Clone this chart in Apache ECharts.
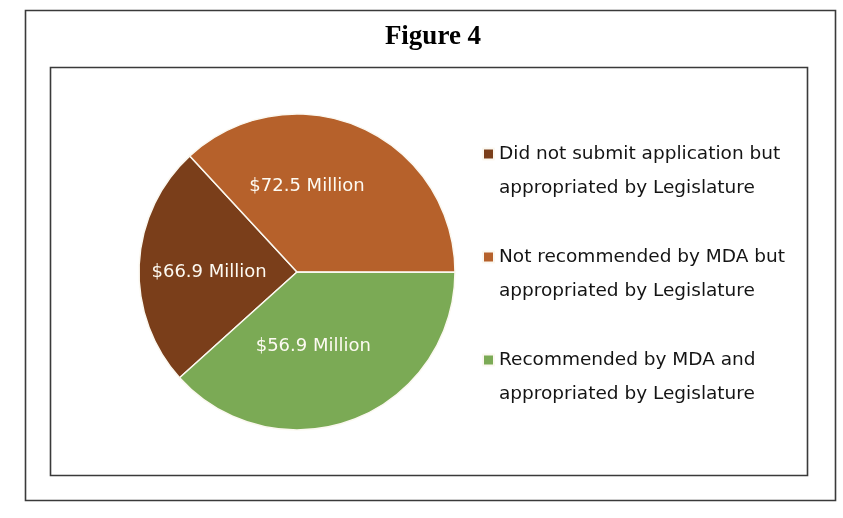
<!DOCTYPE html>
<html>
<head>
<meta charset="utf-8">
<script src="https://cdn.jsdelivr.net/npm/echarts@6/dist/echarts.min.js"></script>
<style>
html,body{margin:0;padding:0;background:#fff;}
#chart{width:843px;height:518px;}
</style>
</head>
<body>
<div id="chart"></div>
<script>
// Categories (legend order)
var categories = [
  'Did not submit application but\nappropriated by Legislature',
  'Not recommended by MDA but\nappropriated by Legislature',
  'Recommended by MDA and\nappropriated by Legislature'
];
// Printed amounts on the slices ($ Million)
var amounts = [66.9, 72.5, 56.9];
// Slice shares as drawn in the picture (percent of the circle)
var shares = [24.8, 36.9, 38.3];
var colors = ['#7A3E1A', '#B6612B', '#7BAA55'];
var labelOffsets = [[-6, 4], [-23, -11], [-13, -2]];

var chart = echarts.init(document.getElementById('chart'), null, {renderer: 'canvas'});

var pieData = categories.map(function (c, i) {
  return {
    name: c,
    value: shares[i],
    itemStyle: {color: colors[i]},
    label: {offset: labelOffsets[i]}
  };
});

// square legend marker aligned with the first text line
var legendIcon = 'path://M0,0L11,0L11,11L0,11Z M0,45L0.01,45';

var option = {
  animation: false,
  backgroundColor: '#fff',
  graphic: [
    {type: 'rect', shape: {x: 25.5, y: 10.5, width: 810, height: 490}, style: {fill: 'none', stroke: '#3a3a3a', lineWidth: 1.6}, z: 0},
    {type: 'rect', shape: {x: 50.5, y: 67.5, width: 757, height: 408}, style: {fill: 'none', stroke: '#3a3a3a', lineWidth: 1.6}, z: 0},
    {type: 'text', x: 433, y: 37, style: {text: 'Figure 4', font: 'bold 27px "Liberation Serif", "Times New Roman", serif', fill: '#000', align: 'center', verticalAlign: 'middle'}}
  ],
  legend: {
    orient: 'vertical',
    left: 482,
    top: 137,
    padding: 0,
    itemWidth: 11,
    itemHeight: 45,
    itemGap: 35,
    icon: legendIcon,
    selectedMode: false,
    data: categories,
    textStyle: {
      fontFamily: '"DejaVu Sans", sans-serif',
      fontSize: 18.5,
      color: '#141414',
      lineHeight: 34
    }
  },
  series: [{
    type: 'pie',
    center: [297, 272],
    radius: 158,
    startAngle: 222,
    clockwise: true,
    avoidLabelOverlap: false,
    itemStyle: {borderColor: '#fbf8f0', borderWidth: 1.5},
    label: {
      show: true,
      position: 'inside',
      color: '#fdfaf2',
      fontFamily: '"DejaVu Sans", sans-serif',
      fontSize: 18,
      formatter: function (p) { return '$' + amounts[p.dataIndex].toFixed(1) + ' Million'; }
    },
    labelLine: {show: false},
    emphasis: {disabled: true},
    data: pieData
  }]
};
chart.setOption(option);
</script>
</body>
</html>
